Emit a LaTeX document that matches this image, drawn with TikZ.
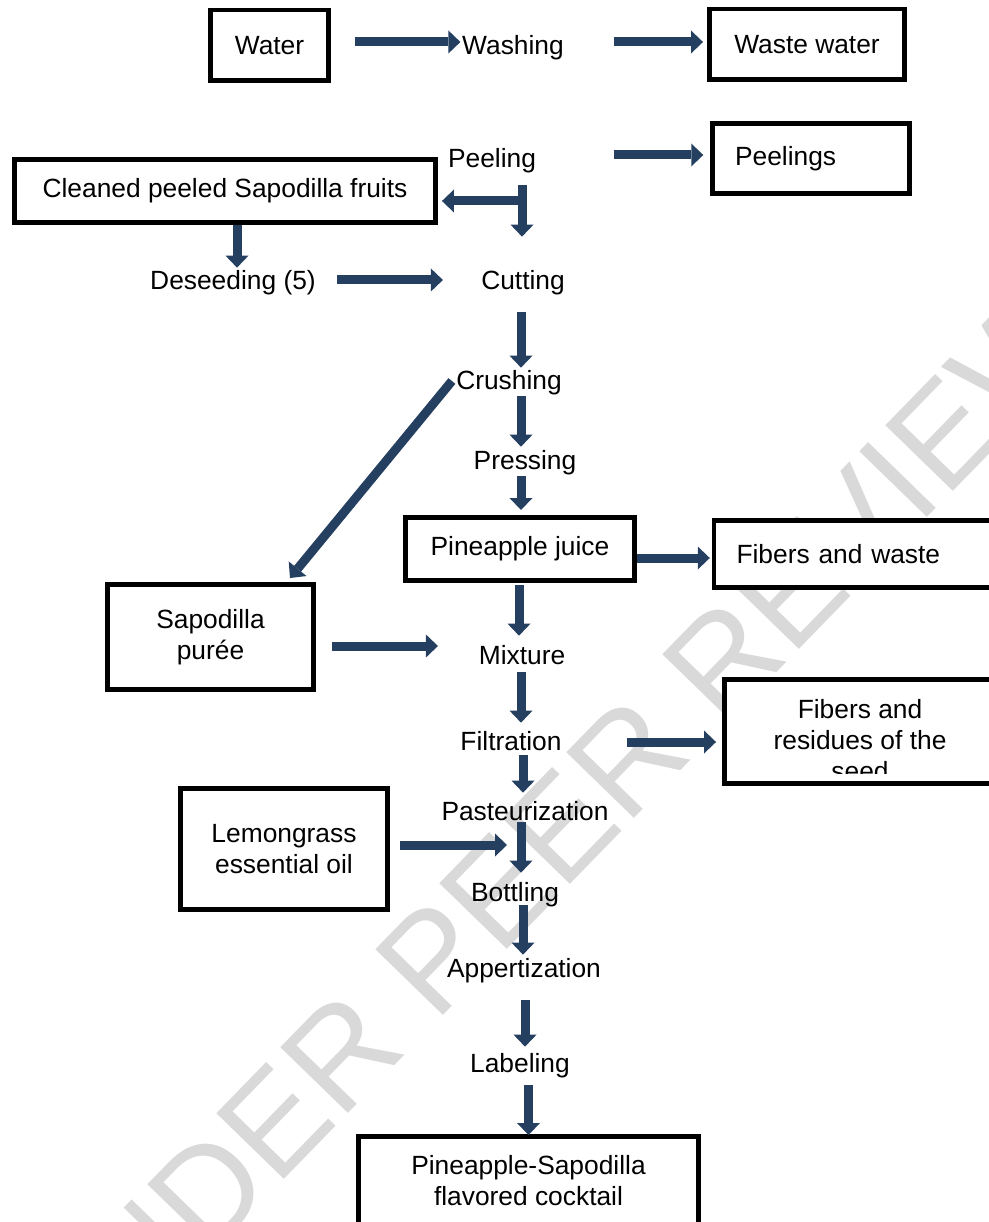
\documentclass[tikz,border=0pt]{standalone}
\usepackage{fontspec}
\setmainfont{Liberation Sans}
\usetikzlibrary{arrows.meta,calc}
\definecolor{arrowblue}{HTML}{243F60}
\definecolor{markgray}{HTML}{D9D9D9}

\begin{document}
\begin{tikzpicture}[x=0.02cm, y=-0.02cm,
    font=\fontsize{15}{17.6}\selectfont,
    box/.style={draw, fill=white, line width=0.09cm, inner sep=0pt, align=center},
    lbox/.style={box, align=left, inner xsep=0.45cm},
    stage/.style={inner sep=0pt, text height=0.38cm, text depth=0.12cm, anchor=base},
    flow/.style={draw=arrowblue, line width=0.18cm, -{Triangle[length=0.24cm, width=0.46cm, line width=0pt]}}]
    \useasboundingbox (0,0) rectangle (989,1222);
    % watermark
    \node[markgray, rotate=45.8, inner sep=0pt, font=\fontsize{78}{80}\selectfont] (stamp) at (551,838) {UNDER PEER REVIEW};
    % boxes
    \node[box, minimum width=2.37cm, minimum height=1.41cm] (water) at (269.5,45.5) {Water};
    \node[box, minimum width=3.91cm, minimum height=1.41cm] (waste) at (807,44.5) {Waste water};
    \node[lbox, text width=3.04cm, minimum height=1.41cm] (peelings) at (811,158.5) {Peelings};
    \node[box, minimum width=8.43cm, minimum height=1.27cm] (cleaned) at (225,191) {Cleaned peeled Sapodilla fruits};
    \node[box, minimum width=4.59cm, minimum height=1.27cm] (juice) at (520,549) {Pineapple juice};
    \node[lbox, text width=4.9cm, minimum height=1.35cm] (fibres) at (859,554) {Fibers and waste};
    \node[box, minimum width=4.13cm, minimum height=2.11cm] (puree) at (210.5,637) {Sapodilla\\purée};
    \node[box, minimum width=5.43cm, minimum height=2.09cm] (residues) at (860,731.5) {};
    \begin{scope}
        \clip (residues.north west) rectangle (998,773);
        \node[align=center, inner sep=0pt] (residuestext) at (860,740) {Fibers and\\residues of the\\seed};
    \end{scope}
    \node[box, minimum width=4.15cm, minimum height=2.43cm] (lemon) at (284,849) {Lemongrass\\essential oil};
    \node[box, minimum width=6.81cm, minimum height=1.79cm] (cocktail) at (528.5,1181) {Pineapple-Sapodilla\\flavored cocktail};
    % process steps
    \node[stage] (washing) at (513,54.5) {Washing};
    \node[stage] (peeling) at (492,167.5) {Peeling};
    \node[stage] (deseeding) at (233,289.5) {Deseeding (5)};
    \node[stage] (cutting) at (523,289.5) {Cutting};
    \node[stage] (crushing) at (509,389.5) {Crushing};
    \node[stage] (pressing) at (525,469.5) {Pressing};
    \node[stage] (mixture) at (522,664.5) {Mixture};
    \node[stage] (filtration) at (511,750.5) {Filtration};
    \node[stage] (pasteur) at (525,820.5) {Pasteurization};
    \node[stage] (bottling) at (515,901.5) {Bottling};
    \node[stage] (appert) at (524,977.5) {Appertization};
    \node[stage] (labeling) at (520,1072.5) {Labeling};
    % side arrows
    \draw[flow] ($(water.east)+(24,-3.5)$) -- ($(water.east -| washing.west)+(-1.5,-3.5)$);
    \draw[flow] ($(washing.east)+(49.5,-6)$) -- ($(washing.east -| waste.west)+(-4,-6)$);
    \draw[flow] ($(peeling.east)+(78,-6)$) -- ($(peeling.east -| peelings.west)+(-7,-6)$);
    \draw[flow] ($(cleaned.east -| cutting)+(-3,10)$) -- ($(cleaned.east)+(4,10)$);
    \draw[flow] ($(deseeding.east)+(21,-3)$) -- ($(deseeding.east -| cutting.west)+(-38,-3)$);
    \draw[flow] ($(juice.east)+(0,9)$) -- ($(juice.east -| fibres.west)+(-2,9)$);
    \draw[flow] ($(puree.east)+(16,9)$) -- ($(puree.east -| mixture.west)+(-40.5,9)$);
    \draw[flow] ($(filtration.east)+(65,-2)$) -- ($(filtration.east -| residues.west)+(-6,-2)$);
    \draw[flow] ($(lemon.east)+(10,-4)$) -- ($(lemon.east -| pasteur)+(-18,-4)$);
    \draw[flow] ($(crushing.west)+(-4,-2)$) -- ($(puree.north east)+(-26,-4)$);
    % main line
    \draw[flow] ($(peeling.south -| cutting)+(-1,11.5)$) -- ($(cutting.north)+(-1,-33.5)$);
    \draw[flow] ($(cleaned.south -| deseeding)+(4,0)$) -- ($(deseeding.north)+(4,-2.5)$);
    \draw[flow] ($(cutting.south)+(-2,16.5)$) -- ($(cutting.south |- crushing.north)+(-2,-2.5)$);
    \draw[flow] ($(crushing.south -| pressing)+(-4,0.5)$) -- ($(pressing.north)+(-4,-3.5)$);
    \draw[flow] ($(pressing.south)+(-4,0)$) -- ($(pressing.south |- juice.north)+(-4,-5)$);
    \draw[flow] ($(juice.south)+(-1,2)$) -- ($(juice.south |- mixture.north)+(-1,-9.5)$);
    \draw[flow] ($(mixture.south)+(-1,1.5)$) -- ($(mixture.south |- filtration.north)+(-1,-8.5)$);
    \draw[flow] ($(filtration.south -| pasteur)+(-2,-1.5)$) -- ($(pasteur.north)+(-2,-8.5)$);
    \draw[flow] ($(pasteur.south)+(-4,-4.5)$) -- ($(pasteur.south |- bottling.north)+(-4,-9.5)$);
    \draw[flow] ($(bottling.south -| appert)+(-1,-2.5)$) -- ($(appert.north)+(-1,-3.5)$);
    \draw[flow] ($(appert.south)+(1,16.5)$) -- ($(appert.south |- labeling.north)+(1,-6.5)$);
    \draw[flow] ($(labeling.south -| cocktail)+(0,6.5)$) -- ($(cocktail.north)+(0,1)$);
\end{tikzpicture}
\end{document}
